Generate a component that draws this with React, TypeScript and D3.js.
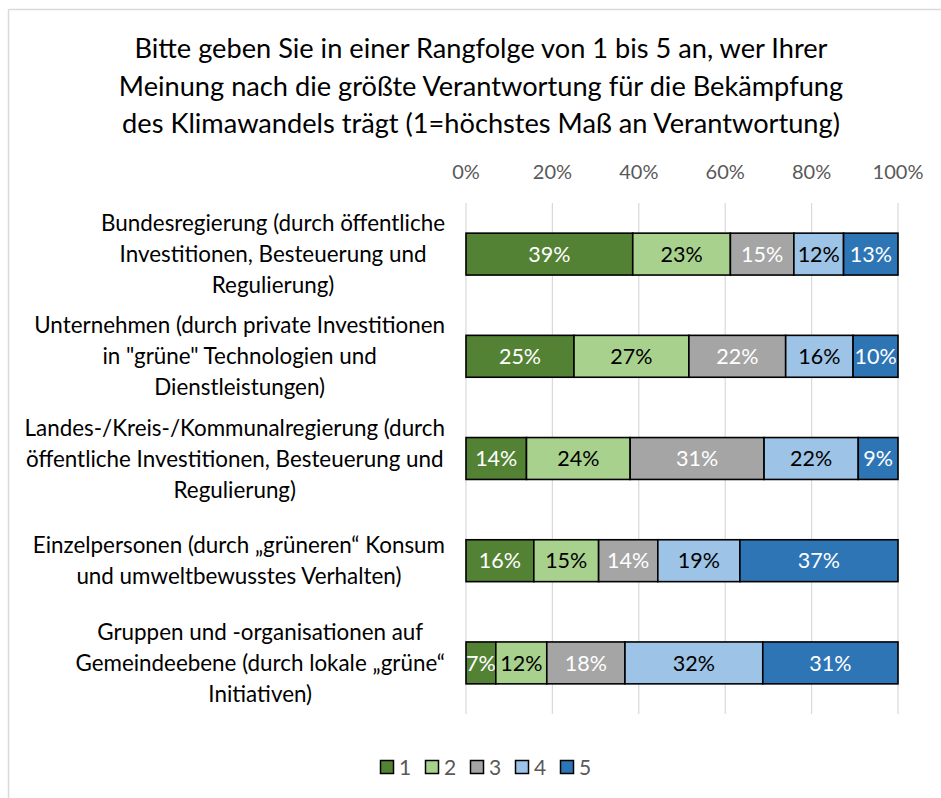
import React from "react";
import * as d3 from "d3";

const titleLines = [
  "Bitte geben Sie in einer Rangfolge von 1 bis 5 an, wer Ihrer",
  "Meinung nach die größte Verantwortung für die Bekämpfung",
  "des Klimawandels trägt (1=höchstes Maß an Verantwortung)",
];

const categories = [
  "Bundesregierung",
  "Unternehmen",
  "Landes-/Kreis-/Kommunalregierung",
  "Einzelpersonen",
  "Gruppen und -organisationen",
];

const categoryLines = [
  ["Bundesregierung (durch öffentliche", "Investitionen, Besteuerung und", "Regulierung)"],
  ["Unternehmen (durch private Investitionen", "in \"grüne\" Technologien und", "Dienstleistungen)"],
  ["Landes-/Kreis-/Kommunalregierung (durch", "öffentliche Investitionen, Besteuerung und", "Regulierung)"],
  ["Einzelpersonen (durch „grüneren“ Konsum", "und umweltbewusstes Verhalten)"],
  ["Gruppen und -organisationen auf", "Gemeindeebene (durch lokale „grüne“", "Initiativen)"],
];

const seriesNames = ["1", "2", "3", "4", "5"];
const rank1 = [38.6, 25.0, 14.0, 15.7, 6.9];
const rank2 = [22.6, 26.6, 24.0, 15.0, 11.8];
const rank3 = [14.7, 22.4, 31.0, 13.7, 18.1];
const rank4 = [11.5, 15.6, 21.8, 19.0, 31.9];
const rank5 = [12.6, 10.4, 9.2, 36.6, 31.3];
const tickValues = [0, 20, 40, 60, 80, 100];

const colors = ["#548235", "#A9D18E", "#A5A5A5", "#9DC3E6", "#2E75B6"];
const labelColors = ["#FFFFFF", "#000000", "#FFFFFF", "#000000", "#FFFFFF"];

const FONT = "Lato, 'Open Sans', sans-serif";

function measure(text: string, size: number): number {
  const c = document.createElement("canvas");
  const ctx = c.getContext("2d");
  if (!ctx) return text.length * size * 0.5;
  ctx.font = `${size}px Lato`;
  return ctx.measureText(text).width;
}

export default function App() {
  const W = 941;
  const H = 798;
  const allSeries = [rank1, rank2, rank3, rank4, rank5];
  const table = categories.map((c, i) => {
    const row: any = { category: c };
    seriesNames.forEach((s, j) => (row[s] = allSeries[j][i]));
    return row;
  });
  const stacked = d3.stack<any>().keys(seriesNames)(table);

  const x = d3.scaleLinear().domain([0, 100]).range([466, 898]);
  const y = d3
    .scaleBand<string>()
    .domain(categories)
    .range([203, 714])
    .paddingInner(0.59)
    .paddingOuter(0.295);

  const catSize = 22.4;
  const lineGap = 31;

  return (
    <div style={{ position: "fixed", left: 0, top: 0, width: W, height: H, background: "#fff" }}>
      <svg width={W} height={H} style={{ display: "block", fontFamily: FONT }}>
        <rect x={0} y={0} width={W} height={H} fill="#fff" />
        <line x1={8.5} y1={9.5} x2={W} y2={9.5} stroke="#D9D9D9" strokeWidth={1.5} />
        <line x1={8.5} y1={9.5} x2={8.5} y2={H} stroke="#D9D9D9" strokeWidth={1.5} />

        {titleLines.map((t, i) => (
          <text key={i} x={481} y={58 + i * 37.5} textAnchor="middle" fontSize={27.2} fill="#000">
            {t}
          </text>
        ))}

        {tickValues.map((t) => (
          <g key={t}>
            <line x1={x(t)} x2={x(t)} y1={203} y2={714} stroke="#D9D9D9" strokeWidth={1.2} />
            <text x={x(t)} y={179} textAnchor="middle" fontSize={20} fill="#595959">
              {t}%
            </text>
          </g>
        ))}

        {stacked.map((s, si) => (
          <g key={s.key}>
            {s.map((d, i) => {
              const cat = categories[i];
              const x0 = x(d[0]);
              const x1 = x(d[1]);
              const yy = y(cat)!;
              const bh = y.bandwidth();
              const v = allSeries[si][i];
              return (
                <g key={cat}>
                  <rect x={x0} y={yy} width={x1 - x0} height={bh} fill={colors[si]} stroke="#000" strokeWidth={1.6} />
                  <text
                    x={(x0 + x1) / 2}
                    y={yy + bh / 2}
                    dy="0.36em"
                    textAnchor="middle"
                    fontSize={21.5}
                    fill={labelColors[si]}
                  >
                    {Math.round(v)}%
                  </text>
                </g>
              );
            })}
          </g>
        ))}

        {categories.map((c, i) => {
          const lines = categoryLines[i];
          const maxW = Math.max(...lines.map((l) => measure(l, catSize)));
          const cx = 445 - maxW / 2;
          const cy = y(c)! + y.bandwidth() / 2;
          const start = cy - ((lines.length - 1) * lineGap) / 2;
          return (
            <g key={c}>
              {lines.map((l, li) => (
                <text key={li} x={cx} y={start + li * lineGap} dy="0.36em" textAnchor="middle" fontSize={catSize} fill="#000">
                  {l}
                </text>
              ))}
            </g>
          );
        })}

        {seriesNames.map((s, i) => (
          <g key={s} transform={`translate(${380 + i * 45},760)`}>
            <rect x={0.5} y={0.5} width={13} height={13} fill={colors[i]} stroke="#000" strokeWidth={1.5} />
            <text x={19} y={7} dy="0.36em" fontSize={21} fill="#595959">
              {s}
            </text>
          </g>
        ))}
      </svg>
    </div>
  );
}
